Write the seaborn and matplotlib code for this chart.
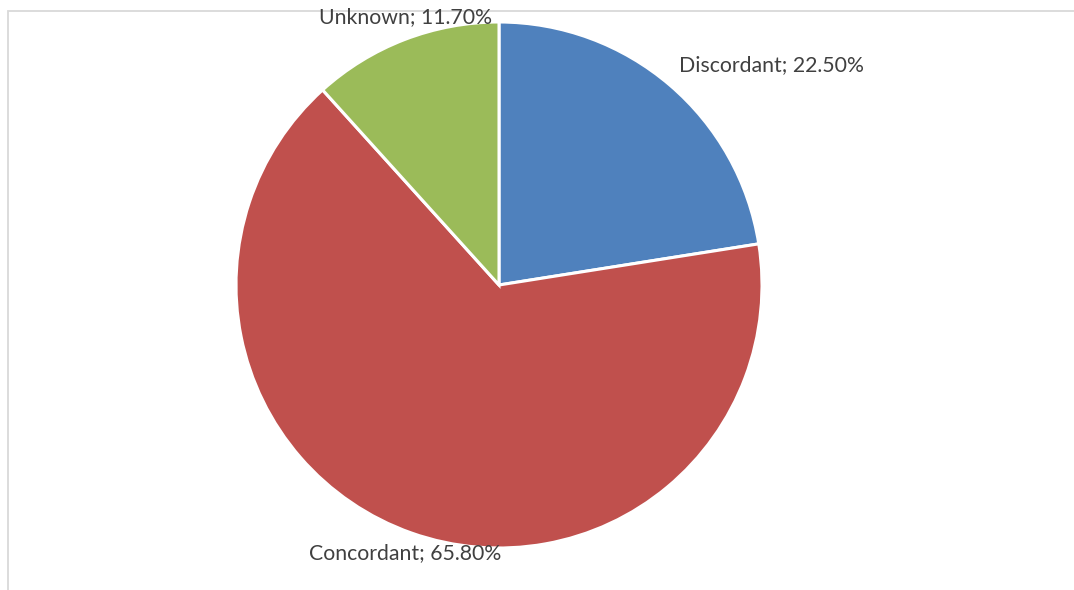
import matplotlib
matplotlib.use("Agg")
import matplotlib.pyplot as plt
import matplotlib.patches as mpatches
import seaborn as sns

# slice data, clockwise from 12 o'clock
categories = ['Discordant', 'Concordant', 'Unknown']
shares = [22.5, 65.8, 11.7]
colors = ['#4F81BD', '#C0504D', '#9BBB59']

# label positions (in pie-radius units, relative to centre)
label_pos = {'Discordant': (1.034, 0.837),
             'Concordant': (-0.357, -1.02),
             'Unknown': (-0.357, 1.02)}


def main():
    sns.set_theme(style='white')
    plt.rcParams['font.family'] = ['Lato', 'DejaVu Sans']

    W, H = 1074, 590
    fig = plt.figure(figsize=(W / 100, H / 100), dpi=100)
    fig.patch.set_facecolor('white')

    # chart area frame (runs off the right and bottom edges), drawn under the text
    frame = mpatches.Rectangle((8 / W, -0.1), 1.2, (H - 11) / H + 0.1,
                               transform=fig.transFigure, fill=False,
                               edgecolor='#D9D9D9', linewidth=1.3, zorder=-1)
    fig.add_artist(frame)

    cx, cy, r = 499, 285, 263
    ax = fig.add_axes([(cx - r) / W, (H - cy - r) / H, 2 * r / W, 2 * r / H])
    ax.pie(shares, colors=colors, startangle=90, counterclock=False, radius=1,
           wedgeprops={'edgecolor': 'white', 'linewidth': 2.2})
    ax.set_xlim(-1, 1)
    ax.set_ylim(-1, 1)
    ax.set_aspect('equal')
    ax.axis('off')

    for name, val in zip(categories, shares):
        x, y = label_pos[name]
        ax.text(x, y, '{0}; {1:.2f}%'.format(name, val), ha='center', va='center',
                fontsize=15.3, color='#404040', clip_on=False)

    fig.savefig('out.png', dpi=100, facecolor='white')


if __name__ == '__main__':
    main()
